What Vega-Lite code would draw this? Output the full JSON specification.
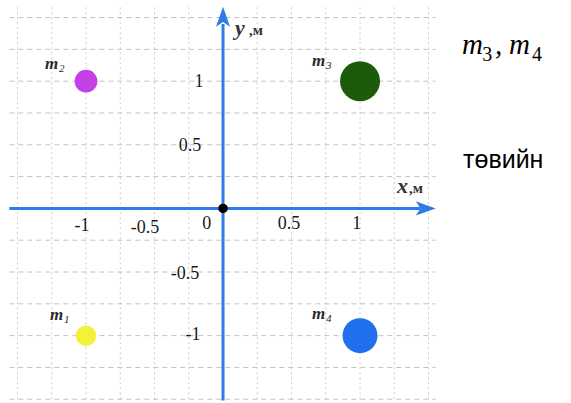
{
  "$schema": "https://vega.github.io/schema/vega-lite/v6.json",
  "width": 571,
  "height": 403,
  "padding": 0,
  "autosize": {"type": "fit", "contains": "padding"},
  "background": "white",
  "config": {"view": {"stroke": null}},
  "datasets": {
    "grid": [
      {"v": -1.5}, {"v": -1.25}, {"v": -1}, {"v": -0.75}, {"v": -0.5}, {"v": -0.25},
      {"v": 0.25}, {"v": 0.5}, {"v": 0.75}, {"v": 1}, {"v": 1.25}, {"v": 1.5}
    ],
    "masses": [
      {"name": "m1", "sub": "1", "x": -1, "y": -1, "lx": -1.263, "ly": -0.875},
      {"name": "m2", "sub": "2", "x": -1, "y": 1, "lx": -1.299, "ly": 1.093},
      {"name": "m3", "sub": "3", "x": 1, "y": 1, "lx": 0.65, "ly": 1.117},
      {"name": "m4", "sub": "4", "x": 1, "y": -1, "lx": 0.65, "ly": -0.868}
    ],
    "ticks": [
      {"t": "-1", "x": -1.03, "y": -0.136},
      {"t": "-0.5", "x": -0.569, "y": -0.152},
      {"t": "0", "x": -0.119, "y": -0.126},
      {"t": "0.5", "x": 0.482, "y": -0.126},
      {"t": "1", "x": 0.976, "y": -0.126},
      {"t": "1", "x": -0.175, "y": 0.992},
      {"t": "0.5", "x": -0.241, "y": 0.494},
      {"t": "-0.5", "x": -0.277, "y": -0.515},
      {"t": "-1", "x": -0.219, "y": -0.992}
    ],
    "axisvar": [
      {"t": "y", "x": 0.0876, "y": 1.366},
      {"t": "x", "x": 1.27, "y": 0.121}
    ],
    "axisunit": [
      {"t": ",м", "x": 0.19, "y": 1.366},
      {"t": ",м", "x": 1.358, "y": 0.121}
    ],
    "arrows": [
      {"dir": "up", "x": 0, "y": 1.493},
      {"dir": "right", "x": 1.467, "y": 0}
    ],
    "notem": [
      {"t": "m", "x": 1.745, "y": 1.21},
      {"t": ",", "x": 1.985, "y": 1.21},
      {"t": "m", "x": 2.088, "y": 1.21}
    ],
    "notesub": [
      {"t": "3", "x": 1.893, "y": 1.156},
      {"t": "4", "x": 2.255, "y": 1.156}
    ]
  },
  "encoding": {
    "x": {"type": "quantitative", "scale": {"domain": [-1.628, 2.54], "nice": false, "zero": false}, "axis": null},
    "y": {"type": "quantitative", "scale": {"domain": [-1.498, 1.638], "nice": false, "zero": false}, "axis": null}
  },
  "layer": [
    {
      "data": {"name": "grid"},
      "mark": {"type": "rule", "color": "#cccccc", "strokeWidth": 1, "strokeDash": [2, 3]},
      "encoding": {
        "x": {"field": "v", "type": "quantitative"},
        "y": {"datum": -1.5, "type": "quantitative"},
        "y2": {"datum": 1.6}
      }
    },
    {
      "data": {"name": "grid"},
      "mark": {"type": "rule", "color": "#c2c2c2", "strokeWidth": 1, "strokeDash": [5, 4]},
      "encoding": {
        "y": {"field": "v", "type": "quantitative"},
        "x": {"datum": -1.56, "type": "quantitative"},
        "x2": {"datum": 1.55}
      }
    },
    {
      "data": {"values": [{}]},
      "mark": {"type": "rule", "color": "#2f7ce6", "strokeWidth": 3},
      "encoding": {
        "x": {"datum": -1.56, "type": "quantitative"},
        "x2": {"datum": 1.44},
        "y": {"datum": 0, "type": "quantitative"}
      }
    },
    {
      "data": {"values": [{}]},
      "mark": {"type": "rule", "color": "#2f7ce6", "strokeWidth": 3},
      "encoding": {
        "y": {"datum": -1.51, "type": "quantitative"},
        "y2": {"datum": 1.45},
        "x": {"datum": 0, "type": "quantitative"}
      }
    },
    {
      "data": {"name": "arrows"},
      "transform": [{"filter": "datum.dir === 'up'"}],
      "mark": {"type": "point", "filled": true, "opacity": 1, "color": "#2f7ce6", "size": 550, "shape": "M0,-1L0.6,0.7L0,0.3L-0.6,0.7Z"},
      "encoding": {
        "x": {"field": "x", "type": "quantitative"},
        "y": {"field": "y", "type": "quantitative"}
      }
    },
    {
      "data": {"name": "arrows"},
      "transform": [{"filter": "datum.dir === 'right'"}],
      "mark": {"type": "point", "filled": true, "opacity": 1, "color": "#2f7ce6", "size": 550, "shape": "M1,0L-0.7,0.6L-0.3,0L-0.7,-0.6Z"},
      "encoding": {
        "x": {"field": "x", "type": "quantitative"},
        "y": {"field": "y", "type": "quantitative"}
      }
    },
    {
      "data": {"name": "masses"},
      "mark": {"type": "circle", "opacity": 1},
      "encoding": {
        "x": {"field": "x", "type": "quantitative"},
        "y": {"field": "y", "type": "quantitative"},
        "color": {"field": "name", "type": "nominal", "legend": null,
          "scale": {"domain": ["m1", "m2", "m3", "m4"], "range": ["#f3f23a", "#c33fe6", "#1c5a0c", "#1f6fee"]}},
        "size": {"field": "name", "type": "nominal", "legend": null,
          "scale": {"type": "ordinal", "domain": ["m1", "m2", "m3", "m4"], "range": [420, 515, 1600, 1225]}}
      }
    },
    {
      "data": {"values": [{"x": 0, "y": 0}]},
      "mark": {"type": "circle", "color": "#000000", "opacity": 1, "size": 90},
      "encoding": {
        "x": {"field": "x", "type": "quantitative"},
        "y": {"field": "y", "type": "quantitative"}
      }
    },
    {
      "data": {"name": "masses"},
      "mark": {"type": "text", "font": "Liberation Serif", "fontStyle": "italic", "fontWeight": "bold", "fontSize": 17, "color": "#2a2a2a", "align": "left", "baseline": "alphabetic", "text": "m"},
      "encoding": {
        "x": {"field": "lx", "type": "quantitative"},
        "y": {"field": "ly", "type": "quantitative"}
      }
    },
    {
      "data": {"name": "masses"},
      "mark": {"type": "text", "font": "Liberation Serif", "fontStyle": "italic", "fontSize": 11, "color": "#2a2a2a", "align": "left", "baseline": "alphabetic", "dx": 14, "dy": 3},
      "encoding": {
        "x": {"field": "lx", "type": "quantitative"},
        "y": {"field": "ly", "type": "quantitative"},
        "text": {"field": "sub"}
      }
    },
    {
      "data": {"name": "ticks"},
      "mark": {"type": "text", "font": "Liberation Serif", "fontSize": 18, "color": "#1a1a1a", "align": "center", "baseline": "middle"},
      "encoding": {
        "x": {"field": "x", "type": "quantitative"},
        "y": {"field": "y", "type": "quantitative"},
        "text": {"field": "t"}
      }
    },
    {
      "data": {"name": "axisvar"},
      "mark": {"type": "text", "font": "Liberation Serif", "fontStyle": "italic", "fontWeight": "bold", "fontSize": 22, "color": "#333333", "align": "left", "baseline": "alphabetic"},
      "encoding": {
        "x": {"field": "x", "type": "quantitative"},
        "y": {"field": "y", "type": "quantitative"},
        "text": {"field": "t"}
      }
    },
    {
      "data": {"name": "axisunit"},
      "mark": {"type": "text", "font": "Liberation Serif", "fontWeight": "bold", "fontSize": 15, "color": "#333333", "align": "left", "baseline": "alphabetic"},
      "encoding": {
        "x": {"field": "x", "type": "quantitative"},
        "y": {"field": "y", "type": "quantitative"},
        "text": {"field": "t"}
      }
    },
    {
      "data": {"name": "notem"},
      "mark": {"type": "text", "font": "Liberation Serif", "fontStyle": "italic", "fontSize": 29, "color": "#000000", "align": "left", "baseline": "alphabetic"},
      "encoding": {
        "x": {"field": "x", "type": "quantitative"},
        "y": {"field": "y", "type": "quantitative"},
        "text": {"field": "t"}
      }
    },
    {
      "data": {"name": "notesub"},
      "mark": {"type": "text", "font": "Liberation Serif", "fontSize": 20, "color": "#000000", "align": "left", "baseline": "alphabetic"},
      "encoding": {
        "x": {"field": "x", "type": "quantitative"},
        "y": {"field": "y", "type": "quantitative"},
        "text": {"field": "t"}
      }
    },
    {
      "data": {"values": [{"t": "төвийн", "x": 1.752, "y": 0.315}]},
      "mark": {"type": "text", "font": "Liberation Sans", "fontSize": 25, "color": "#000000", "align": "left", "baseline": "alphabetic"},
      "encoding": {
        "x": {"field": "x", "type": "quantitative"},
        "y": {"field": "y", "type": "quantitative"},
        "text": {"field": "t"}
      }
    }
  ]
}
